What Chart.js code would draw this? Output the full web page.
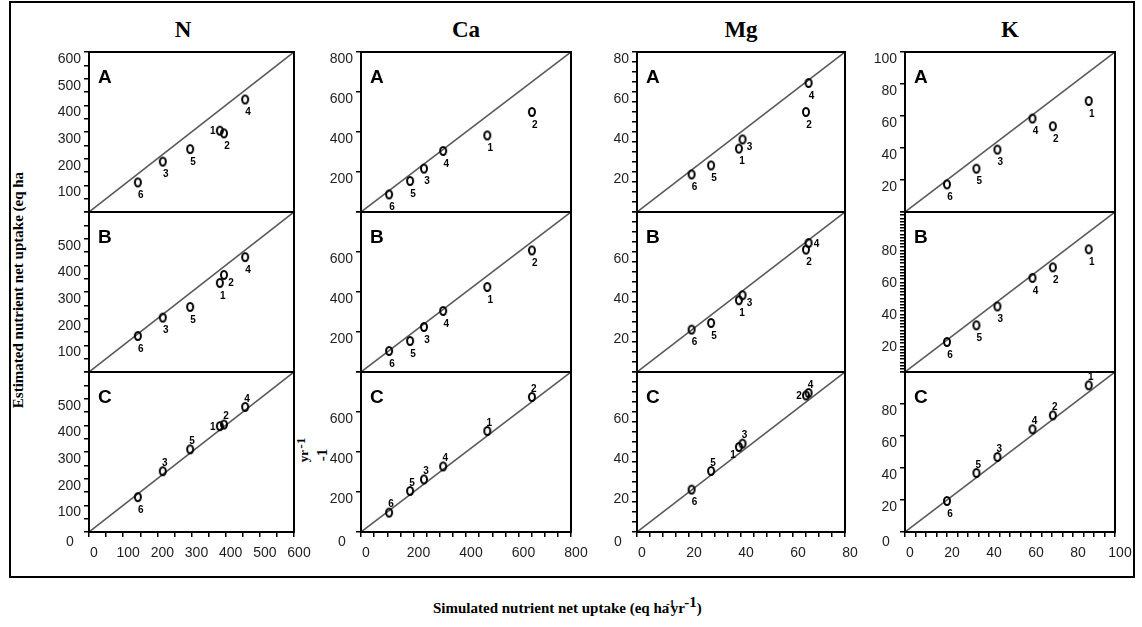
<!DOCTYPE html>
<html>
<head>
<meta charset="utf-8">
<title>Nutrient net uptake</title>
<script src="https://cdn.jsdelivr.net/npm/chart.js@4.4.1/dist/chart.umd.min.js"></script>
<style>
  body { margin: 0; background: #fff; }
  #fig { position: relative; width: 1142px; height: 627px; overflow: hidden; background: #fff;
         font-family: "Liberation Serif", "Times New Roman", serif; color: #000; }
  #frame { position: absolute; left: 9px; top: 1px; width: 1126px; height: 577px;
           box-sizing: border-box; border: 2px solid #000; }
  #fig canvas { position: absolute; }
  .col-title { position: absolute; top: 30px; font-weight: bold; font-size: 23px;
               transform: translate(-50%, -50%); }
  .rot { position: absolute; font-weight: bold; white-space: nowrap;
         transform: translate(-50%, -50%) rotate(-90deg); }
  #ytitle { left: 18px; top: 290px; font-size: 15px; }
  #xtitle { position: absolute; left: 433px; top: 600px; font-weight: bold; font-size: 15px; white-space: nowrap; }
</style>
</head>
<body>
<div id="fig">
  <div id="frame"></div>
  <div class="col-title" style="left:183px">N</div>
  <div class="col-title" style="left:466px">Ca</div>
  <div class="col-title" style="left:741px">Mg</div>
  <div class="col-title" style="left:1010px">K</div>
  <div id="ytitle" class="rot">Estimated nutrient net uptake (eq ha</div>
  <div class="rot" style="left:301px;top:443px;font-size:13px">-1</div>
  <div class="rot" style="left:304px;top:456px;font-size:13px">yr</div>
  <div class="rot" style="left:322px;top:455px;font-size:15px">-1</div>
  <div id="xtitle">Simulated nutrient net uptake (eq ha<span style="font-size:10px;position:relative;top:-6px;margin-left:-3px;margin-right:-4px">-1</span>yr<span style="font-size:15px;position:relative;top:-6px">-1</span>)</div>
</div>

<script>
// site numbers, in the order used by every array below
const sites = ['1', '2', '3', '4', '5', '6'];
const nutrients = ['N', 'Ca', 'Mg', 'K'];
const rows = ['A', 'B', 'C'];
const axisMax = [600, 800, 80, 100];
const majorStep = [100, 200, 20, 20];

// simulated uptake (x) and estimated uptake (y) per site
const simN = [383, 395, 216, 457, 296, 143];
const estN_A = [305, 295, 189, 422, 236, 111];
const estN_B = [334, 364, 204, 431, 244, 135];
const estN_C = [397, 403, 228, 469, 310, 131];

const simCa = [481, 651, 240, 313, 187, 107];
const estCa_A = [383, 500, 217, 305, 155, 88];
const estCa_B = [425, 608, 225, 305, 155, 105];
const estCa_C = [505, 675, 263, 328, 205, 97];

const simMg = [39.2, 65, 40.6, 66, 28.5, 21];
const estMg_A = [31.7, 50, 36.3, 64.5, 23.3, 18.8];
const estMg_B = [35.9, 61.2, 38.4, 64.5, 24.5, 21.2];
const estMg_C = [42.5, 68.3, 44.2, 69.5, 30.5, 21.2];

const simK = [87.5, 70.4, 44, 60.7, 34, 20];
const estK_A = [69.4, 53.6, 39, 58.4, 27.1, 17.3];
const estK_B = [76.7, 65.4, 41, 58.8, 29.2, 18.75];
const estK_C = [91.7, 72.9, 46.9, 64.2, 36.9, 19.4];

const simulated = { N: simN, Ca: simCa, Mg: simMg, K: simK };
const estimated = {
  N: [estN_A, estN_B, estN_C],
  Ca: [estCa_A, estCa_B, estCa_C],
  Mg: [estMg_A, estMg_B, estMg_C],
  K: [estK_A, estK_B, estK_C]
};

// panel placement on the page
const colLeft = [89, 361, 637, 905];
const colRight = [294, 571, 845, 1115];
const rowTop = [52, 212, 372];
const rowH = 160;
const PAD_L = 60, PAD_T = 12, PAD_R = 30, PAD_B = 12, AXIS_H = 40;

// minor tick spacing
const xMinor = [50, 50, 5, 5];
const yMinor = { N: [50, 50, 50], Ca: [200, 200, 200], Mg: [5, 5, 5], K: [20, 2, 20] };

// where a site number sits next to its marker
const nudge = { b: [3, 13], t: [2, -8], l: [-7, 1], r: [8, 1], br: [7, 8], bl: [-6, 8] };
const labelSide = {
  'N-A-1': 'l', 'N-B-2': 'br', 'N-C-1': 'l', 'N-C-6': 'b',
  'Mg-A-3': 'br', 'Mg-B-3': 'br', 'Mg-B-4': 'r', 'Mg-C-1': 'bl', 'Mg-C-2': 'l', 'Mg-C-6': 'b',
  'K-C-6': 'b'
};

const TICK_FONT = { family: '"Liberation Sans", Arial, sans-serif', size: 14 };
const TICK_COLOR = '#1e1e1e';

function ringImage() {
  const c = document.createElement('canvas');
  c.width = 10; c.height = 12;
  const g = c.getContext('2d');
  g.lineWidth = 2;
  g.strokeStyle = '#000';
  g.beginPath();
  g.ellipse(5, 6, 3, 4, 0, 0, Math.PI * 2);
  g.stroke();
  return c;
}
const ring = ringImage();

function isMajor(v, step) {
  return Math.abs(v / step - Math.round(v / step)) < 1e-6;
}

const fig = document.getElementById('fig');

nutrients.forEach((nut, c) => {
  rows.forEach((row, r) => {
    const max = axisMax[c];
    const major = majorStep[c];
    const bottomRow = r === 2;

    const canvas = document.createElement('canvas');
    const w = colRight[c] - colLeft[c] + PAD_L + PAD_R;
    const h = PAD_T + rowH + (bottomRow ? AXIS_H : PAD_B);
    canvas.width = w; canvas.height = h;
    canvas.style.left = (colLeft[c] - PAD_L) + 'px';
    canvas.style.top = (rowTop[r] - PAD_T) + 'px';
    canvas.style.width = w + 'px';
    canvas.style.height = h + 'px';
    fig.appendChild(canvas);

    const points = simulated[nut].map((x, i) => ({ x: x, y: estimated[nut][r][i] }));

    const panelDecor = {
      id: 'panelDecor',
      afterDraw(chart) {
        const ctx = chart.ctx, a = chart.chartArea;
        ctx.save();
        ctx.strokeStyle = '#000';
        ctx.lineWidth = 2;
        ctx.strokeRect(a.left, a.top, a.right - a.left, a.bottom - a.top);

        ctx.fillStyle = '#000';
        ctx.font = 'bold 19px "Liberation Sans", Arial, sans-serif';
        ctx.textAlign = 'left';
        ctx.textBaseline = 'alphabetic';
        ctx.fillText(row, a.left + 9, a.top + 31);

        ctx.font = 'bold 10px "Liberation Sans", Arial, sans-serif';
        ctx.textAlign = 'center';
        ctx.textBaseline = 'middle';
        chart.getDatasetMeta(0).data.forEach((pt, i) => {
          const side = labelSide[nut + '-' + row + '-' + sites[i]] || (bottomRow ? 't' : 'b');
          const d = nudge[side];
          ctx.fillText(sites[i], pt.x + d[0], pt.y + d[1]);
        });

        // the zero of the y axis sits below the corner
        if (bottomRow) {
          ctx.fillStyle = TICK_COLOR;
          ctx.font = '14px "Liberation Sans", Arial, sans-serif';
          ctx.fillText('0', a.left - 19, a.bottom + 10);
        }
        ctx.restore();
      }
    };

    new Chart(canvas, {
      type: 'scatter',
      data: {
        datasets: [
          {
            data: points,
            pointStyle: ring,
            pointRadius: 4,
            showLine: false
          },
          {
            type: 'line',
            data: [{ x: 0, y: 0 }, { x: max, y: max }],
            borderColor: '#5a5a5a',
            borderWidth: 1.6,
            pointRadius: 0,
            fill: false
          }
        ]
      },
      options: {
        responsive: false,
        animation: false,
        events: [],
        layout: { padding: { left: 0, top: PAD_T, right: PAD_R, bottom: bottomRow ? 0 : PAD_B } },
        plugins: { legend: { display: false }, tooltip: { enabled: false } },
        scales: {
          x: {
            type: 'linear',
            min: 0,
            max: max,
            display: bottomRow,
            afterFit: s => { s.height = bottomRow ? AXIS_H : 0; },
            border: { display: false },
            grid: { drawOnChartArea: false, drawTicks: true, tickLength: 5, color: '#000', lineWidth: 1.5 },
            ticks: {
              stepSize: xMinor[c],
              autoSkip: false,
              maxRotation: 0,
              padding: 8,
              labelOffset: 5,
              color: TICK_COLOR,
              font: TICK_FONT,
              callback: v => isMajor(v, major) ? String(v) : ''
            }
          },
          y: {
            type: 'linear',
            min: 0,
            max: max,
            afterFit: s => { s.width = PAD_L; },
            border: { display: false },
            grid: { drawOnChartArea: false, drawTicks: true, tickLength: 5, color: '#000', lineWidth: 1.5 },
            ticks: {
              stepSize: yMinor[nut][r],
              autoSkip: false,
              padding: 3,
              labelOffset: 7,
              color: TICK_COLOR,
              font: TICK_FONT,
              callback: v => {
                if (!isMajor(v, major) || v === 0) return '';
                if (r > 0 && v >= max) return '';
                return String(v);
              }
            }
          }
        }
      },
      plugins: [panelDecor]
    });
  });
});
</script>
</body>
</html>
